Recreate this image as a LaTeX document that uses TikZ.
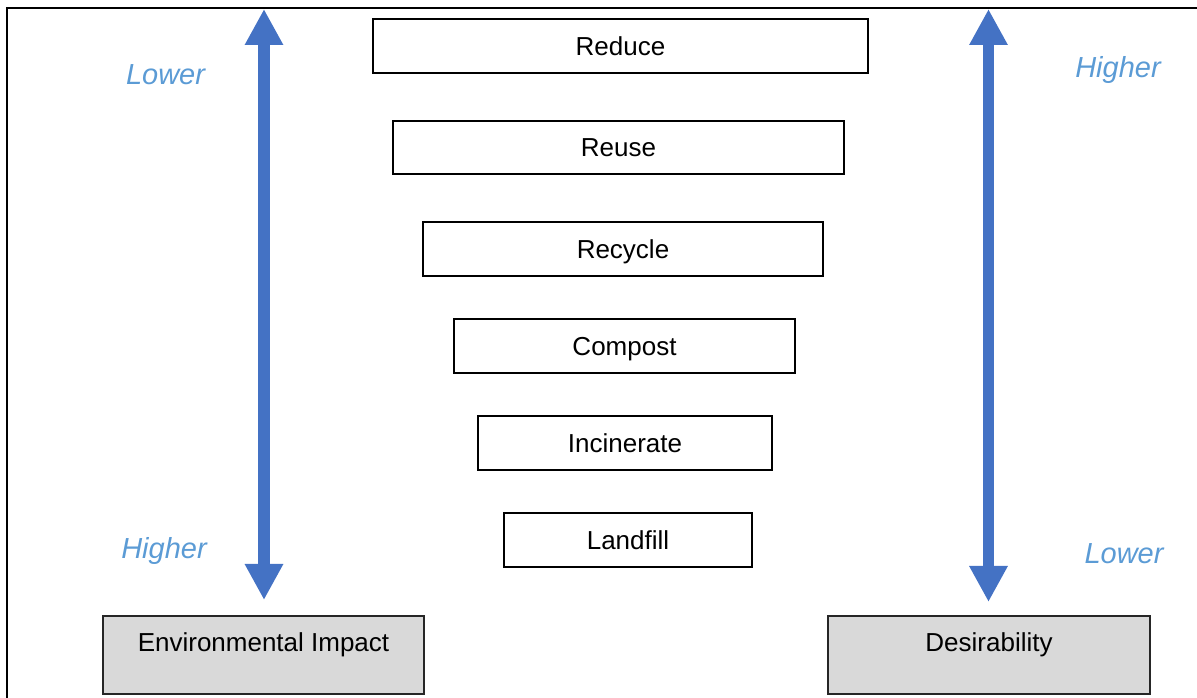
\documentclass[tikz,border=0pt]{standalone}
\usepackage{fontspec}
\setmainfont{Liberation Sans}
\usetikzlibrary{arrows.meta}
\definecolor{arrblue}{HTML}{4472C4}
\definecolor{lblblue}{HTML}{5B9BD5}
\definecolor{boxgray}{HTML}{D9D9D9}
\begin{document}
\begin{tikzpicture}[x=0.75pt,y=-0.75pt,
  stepbox/.style={draw=black,line width=1.1pt,fill=white,inner sep=0pt,
    minimum height=40.5pt,text height=14pt,text depth=0pt,
    font=\fontsize{19.5}{23}\selectfont},
  graybox/.style={draw=black!85,line width=1.1pt,fill=boxgray,inner xsep=0pt,
    inner ysep=12.5pt,text height=14pt,text depth=19.5pt,
    font=\fontsize{19.5}{23}\selectfont},
  lbl/.style={text=lblblue,anchor=base,inner sep=0pt,
    font=\fontsize{21.75}{26}\selectfont\itshape},
  bigarrow/.style={draw=arrblue,line width=8.6pt,
    {Triangle[width=27pt,length=27pt]}-{Triangle[width=27pt,length=27pt]}}
]
\useasboundingbox (0,0) rectangle (1197,698);
% frame (cropped)
\draw[line width=1.7pt] (7,698) -- (7,8) -- (1197,8);

% hierarchy boxes
\node[stepbox,minimum width=371.25pt] (reduce) at (620.5,46) {Reduce};
\node[stepbox,minimum width=338.25pt,minimum height=39.75pt] (reuse) at (618.5,147.5) {Reuse};
\node[stepbox,minimum width=300pt] (recycle) at (623,249) {Recycle};
\node[stepbox,minimum width=255.75pt] (compost) at (624.5,346) {Compost};
\node[stepbox,minimum width=220.5pt] (incinerate) at (625,443) {Incinerate};
\node[stepbox,minimum width=186pt] (landfill) at (628,540) {Landfill};

% bottom gray boxes
\node[graybox,minimum width=240.75pt] (env) at (263.5,655) {Environmental Impact};
\node[graybox,minimum width=241.5pt] (des) at (989,655) {Desirability};

% arrow end points
\coordinate (lbot) at (264,600);
\coordinate (ltop) at (264,9);
\coordinate (rbot) at (988.5,602);
\coordinate (rtop) at (988.5,9);
\draw[bigarrow] (lbot) -- (ltop);
\draw[bigarrow] (rbot) -- (rtop);

% labels
\node[lbl] (llower) at (165.5,85) {Lower};
\node[lbl] (lhigher) at (164,559) {Higher};
\node[lbl] (rhigher) at (1118,78) {Higher};
\node[lbl] (rlower) at (1124,564) {Lower};
\end{tikzpicture}
\end{document}
